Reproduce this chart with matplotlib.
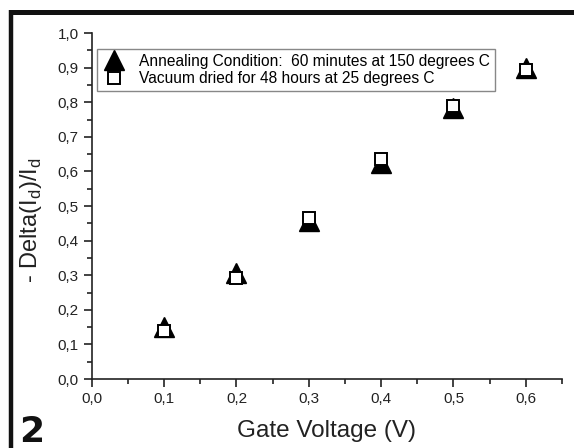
"""Gate voltage response: annealed vs vacuum dried devices."""

import matplotlib
matplotlib.use("Agg")
import matplotlib.pyplot as plt
from matplotlib.lines import Line2D
from matplotlib.ticker import FuncFormatter, MultipleLocator

plt.rcParams["font.family"] = ["Liberation Sans", "DejaVu Sans"]

# data
gate_voltage = [0.1, 0.2, 0.3, 0.4, 0.5, 0.6]
annealed = [0.149, 0.306, 0.458, 0.624, 0.783, 0.900]
vacuum_dried = [0.139, 0.293, 0.466, 0.637, 0.789, 0.894]

label_annealed = "Annealing Condition:  60 minutes at 150 degrees C"
label_vacuum = "Vacuum dried for 48 hours at 25 degrees C"

fig = plt.figure(figsize=(5.74, 4.48), dpi=100)
ax = fig.add_axes([0.160, 0.154, 0.819, 0.772])

ax.plot(gate_voltage, annealed, linestyle="none", marker="^", markersize=14,
        color="black", label=label_annealed, zorder=3)
ax.plot(gate_voltage, vacuum_dried, linestyle="none", marker="s", markersize=9,
        markerfacecolor="white", markeredgecolor="black", markeredgewidth=1.4,
        label=label_vacuum, zorder=4)

ax.set_xlim(0, 0.65)
ax.set_ylim(0, 1.0)
ax.xaxis.set_major_locator(MultipleLocator(0.1))
ax.xaxis.set_minor_locator(MultipleLocator(0.05))
ax.yaxis.set_major_locator(MultipleLocator(0.1))
ax.yaxis.set_minor_locator(MultipleLocator(0.05))
comma = FuncFormatter(lambda v, pos: f"{v:.1f}".replace(".", ","))
ax.xaxis.set_major_formatter(comma)
ax.yaxis.set_major_formatter(comma)

for side in ("top", "right"):
    ax.spines[side].set_visible(False)
for side in ("left", "bottom"):
    ax.spines[side].set_color("#222222")
    ax.spines[side].set_linewidth(1.2)
ax.tick_params(which="major", direction="out", length=6, width=1.2,
               color="#222222", labelsize=11, labelcolor="#222222", pad=3.5)
ax.tick_params(which="minor", direction="out", length=3.5, width=1.2, color="#222222")

ax.set_xlabel("Gate Voltage (V)", fontsize=17.5, color="#222222", labelpad=10)
ax.set_ylabel(r"- Delta(I$_\mathregular{d}$)/I$_\mathregular{d}$",
              fontsize=17, color="#222222")
ax.yaxis.set_label_coords(-0.102, 0.46)

leg = ax.legend(loc="upper left", bbox_to_anchor=(97 / 574, 1 - 49 / 448),
                bbox_transform=fig.transFigure, fontsize=11.2, frameon=True,
                fancybox=False, framealpha=1, edgecolor="#888888",
                borderpad=0.3, handletextpad=0.8, labelspacing=0.15,
                handlelength=1.6, borderaxespad=0)
leg.get_frame().set_linewidth(1.0)

# thick panel frame on the left and top edges
fig.add_artist(Line2D([11 / 574, 11 / 574], [0, 1 - 10 / 448],
                      transform=fig.transFigure, color="#111111", linewidth=3.2,
                      solid_capstyle="butt"))
fig.add_artist(Line2D([9 / 574, 1], [1 - 12.5 / 448, 1 - 12.5 / 448],
                      transform=fig.transFigure, color="#111111", linewidth=3.6,
                      solid_capstyle="butt"))

fig.text(19 / 574, 6 / 448, "2", fontsize=26, fontweight="bold",
         family="DejaVu Sans", color="#111111", ha="left", va="baseline")

fig.savefig("out.png", dpi=100)
